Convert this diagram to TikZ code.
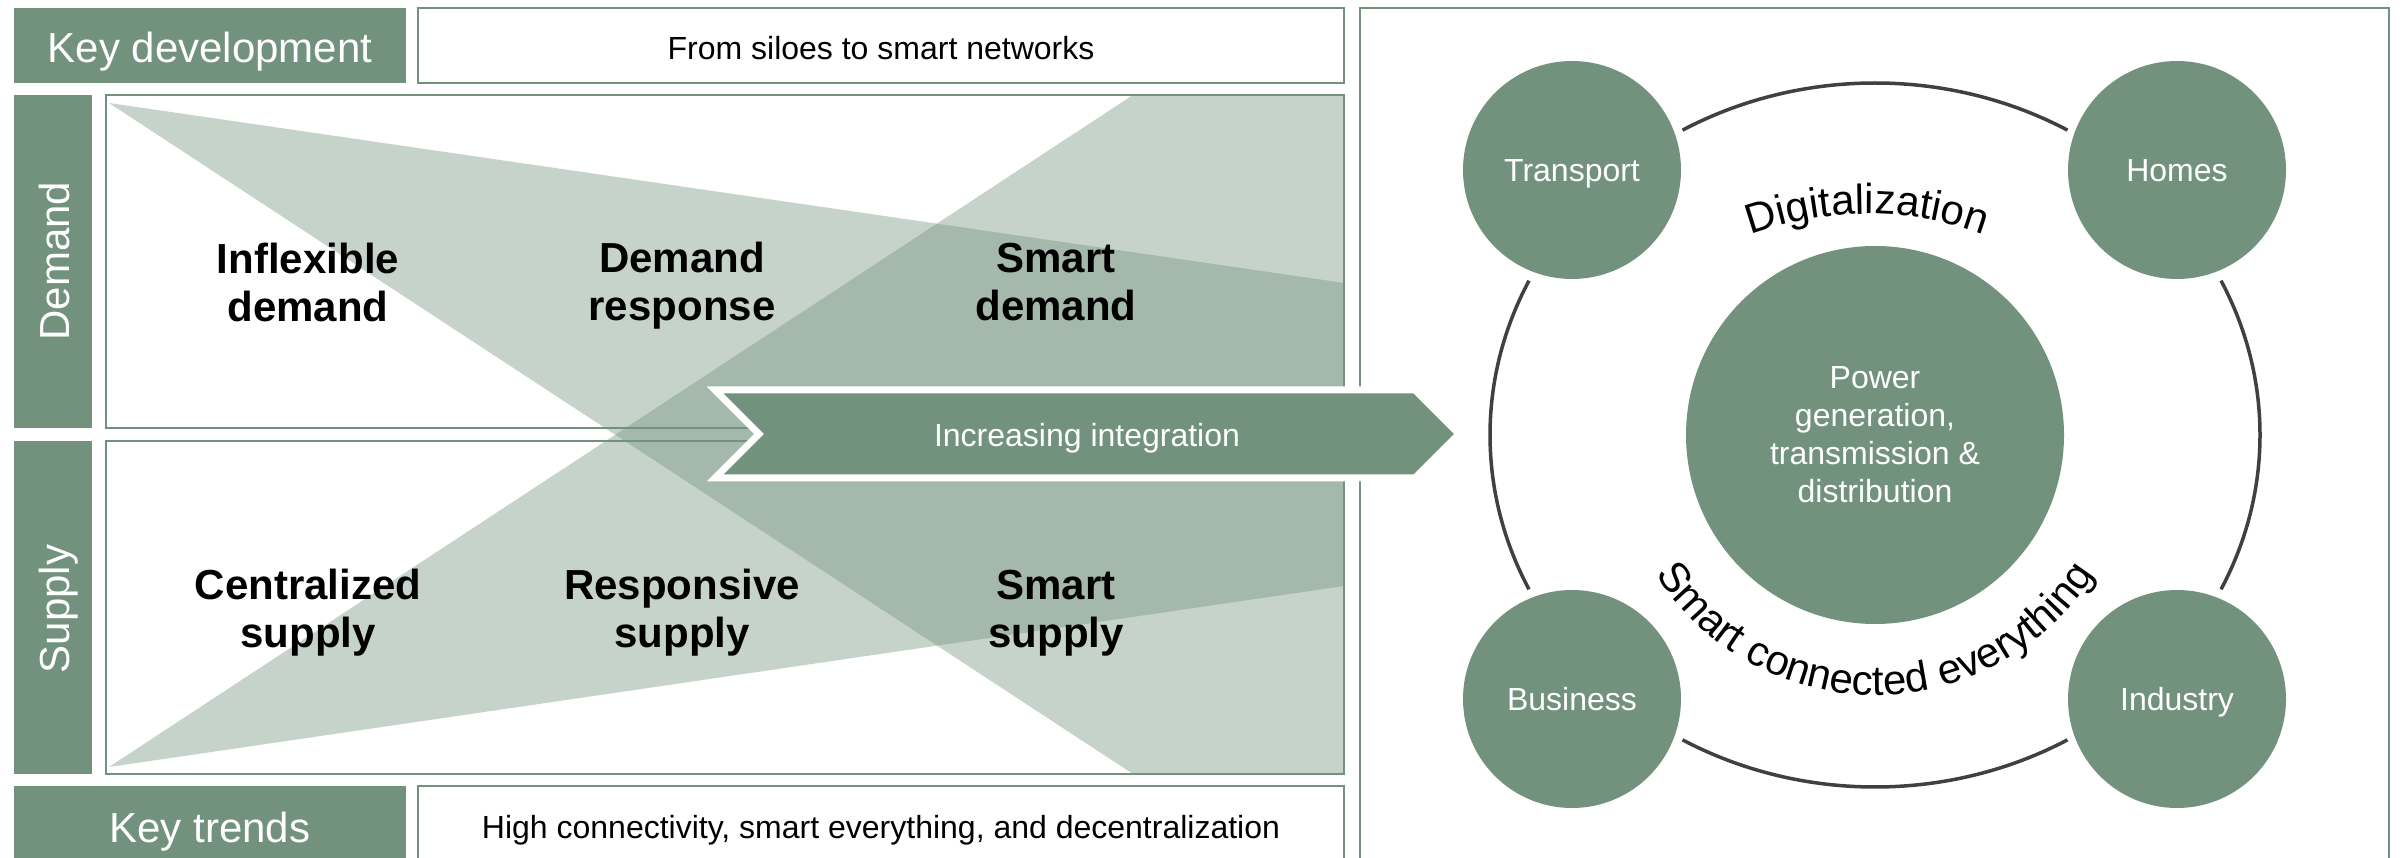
\documentclass[tikz,border=0pt]{standalone}
\usepackage{fontspec}
\setmainfont{Liberation Sans}
\usetikzlibrary{decorations.text}
\definecolor{sage}{RGB}{114,146,126}
\definecolor{ringgray}{RGB}{64,64,64}

\begin{document}
\begin{tikzpicture}[x=1pt, y=1pt,
  every node/.style={inner sep=0pt, outer sep=0pt},
  barbox/.style={rectangle, fill=sage, anchor=south west},
  framebox/.style={rectangle, draw=sage, line width=2pt, anchor=south west},
  wedge/.style={fill=sage, fill opacity=0.4},
  headtxt/.style={font=\fontsize{42}{48}\selectfont, text=white},
  plaintxt/.style={font=\fontsize{32}{38}\selectfont, text=black},
  stagetxt/.style={font=\fontsize{42}{48}\selectfont\bfseries, align=center, text=black},
  hub/.style={circle, fill=sage, minimum size=218pt, text=white,
              font=\fontsize{32}{38}\selectfont, text height=23pt, text depth=0pt},
  core/.style={circle, fill=sage, minimum size=378pt, text=white,
               font=\fontsize{32}{38}\selectfont, align=center},
  ringline/.style={draw=ringgray, line width=3.5pt},
  arrowbody/.style={fill=sage, draw=white, line width=7pt, line join=miter},
  arctxt/.style={decorate, decoration={text along path, text align=center,
                 text={|\fontsize{42}{42}\selectfont|#1}}}
]
\useasboundingbox (0,0) rectangle (2403,857);
\fill[white] (0,0) rectangle (2403,857);

% transition wedges across the demand/supply grid
\fill[wedge] (109,754) -- (1344,574) -- (1344,83) -- (1133,83) -- cycle;
\fill[wedge] (109,90) -- (1133,762) -- (1344,762) -- (1344,271) -- cycle;

% frames
\node[framebox, minimum width=926pt, minimum height=75pt] (siloes) at (418,774) {};
\node[framebox, minimum width=1238pt, minimum height=333pt] (demandbox) at (106,429) {};
\node[framebox, minimum width=1238pt, minimum height=333pt] (supplybox) at (106,83) {};
\node[framebox, minimum width=926pt, minimum height=81pt] (trendsbox) at (418,-10) {};
\node[framebox, minimum width=1029pt, minimum height=859pt] (panel) at (1360,-10) {};

% side and header bars
\node[barbox, minimum width=392pt, minimum height=75pt] (keydev) at (14,774) {};
\node[barbox, minimum width=78pt, minimum height=333pt] (demandbar) at (14,429) {};
\node[barbox, minimum width=78pt, minimum height=333pt] (supplybar) at (14,83) {};
\node[barbox, minimum width=392pt, minimum height=81pt] (trendsbar) at (14,-10) {};

% header and footer texts
\node[headtxt, anchor=base] (keydevtxt) at (210,794) {Key development};
\node[plaintxt, anchor=base] (siloestxt) at (881,797) {From siloes to smart networks};
\node[headtxt, anchor=base] (trendstxt) at (210,15) {Key trends};
\node[plaintxt, anchor=base] (trendsline) at (881,19) {High connectivity, smart everything, and decentralization};
\node[headtxt, rotate=90, anchor=base] (demandtxt) at (69,596) {Demand};
\node[headtxt, rotate=90, anchor=base] (supplytxt) at (69,248) {Supply};

% stages
\node[stagetxt] (inflex) at (308,575) {Inflexible\\demand};
\node[stagetxt] (dresp) at (682,571) {Demand\\response};
\node[stagetxt] (sdemand) at (1056,575) {Smart\\demand};
\node[stagetxt] (central) at (308,244) {Centralized\\supply};
\node[stagetxt] (rsupply) at (682,244) {Responsive\\supply};
\node[stagetxt] (ssupply) at (1056,244) {Smart\\supply};

% integration arrow
\path[arrowbody] (715,467) -- (1415,467) -- (1459,423) -- (1415,379) -- (715,379) -- (759,423) -- cycle;
\node[plaintxt, text=white, anchor=base] (integ) at (1087,410) {Increasing integration};

% connected ring
\coordinate (ring) at (1875,422);
\draw[ringline] (ring) ++(60:385 and 352) arc[start angle=60, end angle=120, x radius=385, y radius=352];
\draw[ringline] (ring) ++(154:385 and 352) arc[start angle=154, end angle=206, x radius=385, y radius=352];
\draw[ringline] (ring) ++(240:385 and 352) arc[start angle=240, end angle=300, x radius=385, y radius=352];
\draw[ringline] (ring) ++(-26:385 and 352) arc[start angle=-26, end angle=26, x radius=385, y radius=352];

\node[hub] (transport) at (1572,687) {Transport};
\node[hub] (homes) at (2177,687) {Homes};
\node[hub] (business) at (1572,158) {Business};
\node[hub] (industry) at (2177,158) {Industry};
\node[core] (power) at (ring) {Power\\generation,\\transmission \&\\distribution};

% curved captions
\coordinate (digc) at (1867,303);
\path[arctxt={Digitalization}] (digc) ++(110:340) arc[start angle=110, end angle=70, radius=340];
\path[arctxt={Smart connected everything}] (ring) ++(195:260) arc[start angle=195, end angle=345, radius=260];
\end{tikzpicture}
\end{document}
